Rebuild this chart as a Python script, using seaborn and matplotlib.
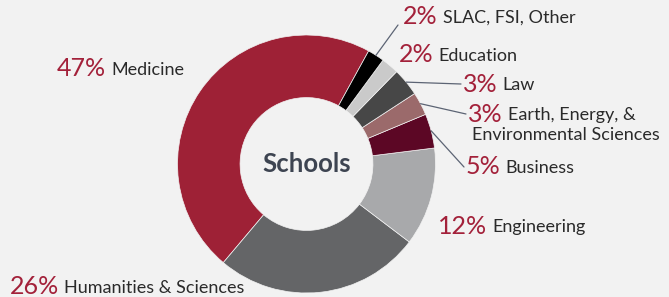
#!/usr/bin/env python3
# schools donut

import numpy as np
import matplotlib
matplotlib.use('Agg')
import matplotlib.pyplot as plt
import seaborn as sns

# dados (ordem anti-horária a partir de Medicine)
escolas = ['Medicine', 'Humanities & Sciences', 'Engineering', 'Business',
           'Earth, Energy, &\nEnvironmental Sciences', 'Law', 'Education', 'SLAC, FSI, Other']
valores = [46.8, 25.8, 12.3, 4.3, 2.9, 3.5, 2.2, 2.1]
rotulos_pct = ['47%', '26%', '12%', '5%', '3%', '3%', '2%', '2%']
cores = ['#9e2136', '#646567', '#a8a9ab', '#5c0725', '#9b6a6b', '#474747', '#cacaca', '#000000']

BG = '#f2f2f2'
RED = '#a3213a'
TXT = '#2a2a2a'
LINE = '#5c6474'

sns.set_theme(style='white')
plt.rcParams['font.family'] = ['Lato', 'DejaVu Sans']

W, H = 669, 297
fig = plt.figure(figsize=(W / 100, H / 100), dpi=100, facecolor=BG)
ax = fig.add_axes([0, 0, 1, 1])
ax.set_facecolor(BG)

cx, cy, R = 306.5, H - 164, 129
wedges, _ = ax.pie(valores, colors=cores, startangle=61.2, counterclock=True,
                   radius=R, center=(cx, cy),
                   wedgeprops=dict(width=R * 0.485, edgecolor=BG, linewidth=0.5))
ax.set_xlim(0, W)
ax.set_ylim(0, H)
ax.set_aspect('equal')
ax.axis('off')

ax.text(cx, cy, 'Schools', ha='center', va='center', fontsize=18.5,
        fontweight='bold', color='#3d4451')

# posição dos rótulos (x esquerdo, y centro em pixels) e se tem linha guia
layout = {
    'Medicine': (57, 69, False),
    'Humanities & Sciences': (10, 287, False),
    'Engineering': (438, 226, False),
    'Business': (466, 167, True),
    'Earth, Energy, &\nEnvironmental Sciences': (468, 114, True),
    'Law': (463, 84, True),
    'Education': (399, 55, False),
    'SLAC, FSI, Other': (403, 17, True),
}

renderer = fig.canvas.get_renderer()
for w, nome, pct in zip(wedges, escolas, rotulos_pct):
    lx, ly, guia = layout[nome]
    y = H - ly
    t = ax.text(lx, y, pct, ha='left', va='center', fontsize=18, color=RED)
    bb = t.get_window_extent(renderer).transformed(ax.transData.inverted())
    linhas = nome.split('\n')
    ax.text(bb.x1 + 5, y - 1, linhas[0], ha='left', va='center', fontsize=13, color=TXT)
    if len(linhas) > 1:
        ax.text(lx + 4, y - 21, linhas[1], ha='left', va='center', fontsize=13, color=TXT)
    if guia:
        ang = np.deg2rad((w.theta1 + w.theta2) / 2)
        x0, y0 = cx + R * np.cos(ang), cy + R * np.sin(ang)
        if nome == 'SLAC, FSI, Other':
            x1, y1 = lx - 5, y - 8
        else:
            x1, y1 = lx - 2, y
        ax.plot([x0, x1], [y0, y1], color=LINE, lw=0.9)

fig.savefig('out.png', dpi=100, facecolor=BG)
plt.close(fig)
